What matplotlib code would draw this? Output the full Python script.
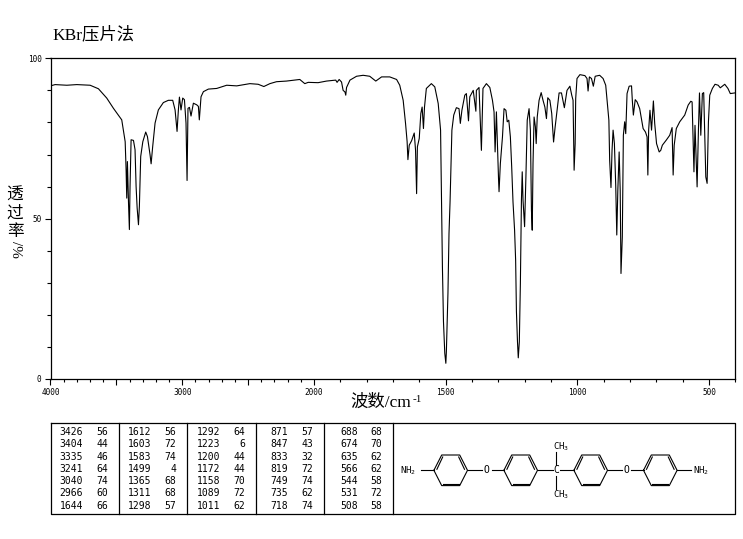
import numpy as np
import matplotlib
matplotlib.use('Agg')
import matplotlib.pyplot as plt
from matplotlib.ticker import FixedLocator, FixedFormatter

# spectrum trace
wavenumber = [
    4000, 3965, 3876, 3800, 3699, 3636, 3573, 3522, 3459, 3433, 3426, 3421, 3416, 3408, 3401, 3396, 3388,
    3370, 3358, 3350, 3342, 3332, 3325, 3315, 3299, 3277, 3264, 3244, 3236, 3224, 3206, 3181, 3143, 3105,
    3072, 3054, 3039, 3029, 3021, 3009, 2996, 2983, 2971, 2963, 2956, 2945, 2933, 2915, 2890, 2877, 2870,
    2857, 2839, 2801, 2738, 2662, 2586, 2486, 2423, 2380, 2334, 2284, 2208, 2107, 2069, 2043, 1984, 1952,
    1917, 1912, 1904, 1895, 1889, 1882, 1879, 1876, 1863, 1838, 1813, 1788, 1765, 1743, 1712, 1686, 1674,
    1661, 1652, 1646, 1643, 1638, 1629, 1619, 1614, 1610, 1607, 1600, 1594, 1589, 1584, 1580, 1573, 1554,
    1541, 1528, 1519, 1515, 1512, 1508, 1503, 1499, 1497, 1491, 1487, 1483, 1476, 1469, 1459, 1449, 1444,
    1438, 1427, 1421, 1413, 1408, 1395, 1385, 1383, 1373, 1364, 1358, 1345, 1332, 1322, 1316, 1312, 1307,
    1299, 1297, 1292, 1284, 1278, 1271, 1266, 1260, 1254, 1249, 1244, 1238, 1234, 1231, 1227, 1224, 1220,
    1216, 1212, 1209, 1206, 1200, 1195, 1190, 1183, 1178, 1174, 1171, 1168, 1164, 1159, 1156, 1152, 1145,
    1137, 1130, 1123, 1117, 1112, 1104, 1097, 1090, 1084, 1075, 1069, 1060, 1049, 1039, 1028, 1021, 1016,
    1012, 1008, 1006, 1001, 990, 971, 963, 959, 954, 946, 939, 932, 915, 902, 892, 887, 880, 877, 872, 868,
    864, 859, 854, 850, 846, 841, 837, 834, 829, 825, 820, 816, 811, 803, 794, 791, 787, 780, 773, 763, 750,
    741, 735, 732, 729, 724, 718, 711, 706, 699, 689, 683, 677, 662, 649, 640, 636, 632, 624, 611, 592, 579,
    569, 564, 557, 553, 545, 540, 536, 531, 525, 520, 512, 507, 502, 497, 487, 477, 465, 457, 440, 428, 419,
    402,
]
transmittance = [
    91.4, 91.8, 91.6, 91.8, 91.6, 90.5, 87.6, 84.4, 80.8, 74.0, 65.3, 56.4, 67.8, 55.4, 46.6, 60.0, 74.6,
    74.4, 71.5, 60.0, 53.3, 48.1, 54.0, 69.4, 74.0, 77.0, 75.6, 69.9, 67.1, 72.5, 79.8, 83.9, 86.2, 86.9,
    86.9, 83.9, 77.2, 83.9, 87.9, 83.9, 87.6, 87.1, 79.8, 61.9, 84.4, 84.7, 82.0, 86.0, 85.5, 85.0, 80.8,
    88.0, 89.6, 90.4, 90.6, 91.6, 91.4, 92.1, 91.9, 91.2, 92.1, 92.7, 92.9, 93.4, 92.1, 92.5, 92.4, 92.9,
    93.2, 92.5, 93.4, 92.6, 90.0, 89.5, 88.5, 90.9, 93.2, 94.4, 94.7, 94.4, 92.9, 94.2, 94.2, 93.4, 91.6,
    86.9, 79.7, 74.0, 68.4, 72.9, 74.3, 76.7, 71.3, 57.8, 72.4, 75.0, 82.8, 84.8, 78.1, 84.8, 90.6, 92.1,
    91.1, 85.9, 77.6, 54.2, 35.0, 17.9, 8.0, 4.9, 8.5, 26.7, 45.4, 55.2, 77.6, 82.3, 84.6, 84.3, 79.7,
    83.8, 88.5, 89.0, 80.5, 88.0, 90.0, 83.5, 90.0, 90.9, 71.3, 90.6, 92.1, 90.9, 86.9, 83.3, 70.8, 83.3,
    62.5, 58.4, 67.2, 75.5, 84.3, 83.8, 80.2, 80.7, 75.5, 66.2, 55.2, 46.4, 37.0, 21.0, 11.6, 6.6, 11.6,
    29.8, 55.8, 64.6, 55.8, 47.5, 63.0, 80.7, 84.3, 77.6, 52.7, 46.4, 67.2, 81.7, 78.6, 73.4, 81.7, 86.9,
    89.3, 86.9, 84.8, 81.2, 87.7, 86.9, 82.8, 73.9, 78.6, 84.8, 89.2, 89.2, 84.6, 90.0, 91.3, 88.5, 86.9,
    65.1, 73.4, 87.4, 93.7, 94.9, 94.6, 93.7, 89.8, 94.2, 93.7, 91.3, 94.4, 94.7, 93.7, 91.6, 86.9, 80.7, 68.2, 59.7, 71.3,
    77.6, 73.4, 60.4, 44.9, 58.9, 70.8, 58.9, 32.9, 44.3, 76.0, 80.2, 76.5, 89.0, 91.3, 91.4, 86.9, 82.3, 87.1, 86.4, 84.3, 78.1,
    77.0, 75.5, 63.6, 77.6, 83.8, 77.6, 86.7, 79.7, 73.4, 70.8, 71.3, 72.9, 74.5, 76.0, 78.4, 63.6, 72.9, 78.1, 80.2, 82.3, 85.4,
    86.6, 86.4, 64.6, 79.1, 59.9, 77.6, 89.2, 76.0, 89.0, 89.3, 63.0, 61.0, 80.2, 88.5, 90.6, 91.9, 91.6, 90.8, 91.9, 90.6, 89.0,
    89.2,
]

# peak table, one list per column
peak_wn = [
    [3426, 3404, 3335, 3241, 3040, 2966, 1644],
    [1612, 1603, 1583, 1499, 1365, 1311, 1298],
    [1292, 1223, 1200, 1172, 1158, 1089, 1011],
    [871, 847, 833, 819, 749, 735, 718],
    [688, 674, 635, 566, 544, 531, 508],
]
peak_t = [
    [56, 44, 46, 64, 74, 60, 66],
    [56, 72, 74, 4, 68, 68, 57],
    [64, 6, 44, 44, 70, 72, 62],
    [57, 43, 32, 72, 74, 62, 74],
    [68, 70, 62, 62, 58, 72, 58],
]

x_major = [4000, 3500, 3000, 2500, 2000, 1500, 1000, 500]
x_labels = ['4000', '', '3000', '', '2000', '1500', '1000', '500']
x_minor = list(range(3900, 300, -100))
y_major = [0, 50, 100]
y_minor = [10, 20, 30, 40, 60, 70, 80, 90]

W, H = 743, 539
CJK = ['Liberation Serif', 'Noto Sans CJK SC', 'DejaVu Sans']
MONO = 'DejaVu Sans Mono'
plt.rcParams['mathtext.default'] = 'regular'


def forward(w):
    # the chart's axis is compressed by half above 2000
    w = np.asarray(w, dtype=float)
    return np.where(w <= 2000, w, 2000 + (w - 2000) / 2)


def inverse(v):
    v = np.asarray(v, dtype=float)
    return np.where(v <= 2000, v, 2000 + (v - 2000) * 2)


fig = plt.figure(figsize=(W / 100, H / 100), dpi=100)
ax = fig.add_axes([50.5 / W, 1 - 379 / H, (735.3 - 50.5) / W, (379 - 58.3) / H])
ax.set_xscale('function', functions=(forward, inverse))
ax.plot(wavenumber, transmittance, color='black', lw=0.8)
ax.set_xlim(4000, 400)
ax.set_ylim(0, 100)

ax.xaxis.set_major_locator(FixedLocator(x_major))
ax.xaxis.set_major_formatter(FixedFormatter(x_labels))
ax.xaxis.set_minor_locator(FixedLocator(x_minor))
ax.yaxis.set_major_locator(FixedLocator(y_major))
ax.yaxis.set_minor_locator(FixedLocator(y_minor))
ax.tick_params(axis='both', which='major', length=4, width=0.8, labelsize=5.6, pad=2.5)
ax.tick_params(axis='x', which='minor', length=2, width=0.8)
ax.tick_params(axis='y', which='minor', length=3, width=0.8)
for lab in ax.get_xticklabels() + ax.get_yticklabels():
    lab.set_family(MONO)
for s in ax.spines.values():
    s.set_linewidth(0.9)

# overlay in pixel coordinates for text, table and structure
ov = fig.add_axes([0, 0, 1, 1], zorder=5)
ov.set_xlim(0, W)
ov.set_ylim(H, 0)
ov.axis('off')

ov.text(52, 35, 'KBr压片法', family=CJK, fontsize=12.5, va='center', ha='left')
for ch, y in zip('透过率', [196, 214, 232]):
    ov.text(15, y, ch, family=CJK, fontsize=12, ha='center', va='center')
ov.text(15, 249, '/%', family=CJK, fontsize=11, ha='center', va='center', rotation=-90)
ov.text(350, 403, '波数/cm', family=CJK, fontsize=12.5, ha='left', va='center')
ov.text(413, 399, '-1', family='Liberation Serif', fontsize=8, ha='left', va='center')

# table frame
top, bottom = 422.7, 514.3
left, right = 50.5, 735.3
ov.plot([left, right, right, left, left], [top, top, bottom, bottom, top], color='black', lw=0.9)
for xd in [119.3, 187.3, 256.3, 324.3, 393.3]:
    ov.plot([xd, xd], [top, bottom], color='black', lw=0.9)

row_y = [431.7, 444, 456.7, 468.7, 481, 493.3, 506]
col_wn_x = [83.3, 151.7, 220.3, 288, 357.7]
col_t_x = [108.3, 176, 245.3, 313.3, 382]
for c in range(len(peak_wn)):
    for r, y in enumerate(row_y):
        ov.text(col_wn_x[c], y, str(peak_wn[c][r]), family=MONO, fontsize=7, ha='right', va='center')
        ov.text(col_t_x[c], y, str(peak_t[c][r]), family=MONO, fontsize=7, ha='right', va='center')


def draw_ring(cx, cy=470.3):
    hw, hh, off = 16.8, 15.3, 9
    xs = [cx - hw, cx - off, cx + off, cx + hw, cx + off, cx - off, cx - hw]
    ys = [cy, cy - hh, cy - hh, cy, cy + hh, cy + hh, cy]
    ov.plot(xs, ys, color='black', lw=0.8)
    # inner lines of the double bonds
    d = 2.0
    ov.plot([cx - hw + 3, cx - off + 1], [cy - 1, cy - hh + d], color='black', lw=0.8)
    ov.plot([cx + hw - 3, cx + off - 1], [cy - 1, cy - hh + d], color='black', lw=0.8)
    ov.plot([cx - off + 1, cx + off - 1], [cy + hh - d, cy + hh - d], color='black', lw=0.8)


for cx in [450.7, 520.7, 590.7, 660.3]:
    draw_ring(cx)

cy = 470.3
for x0, x1 in [(421, 434), (467.7, 481.5), (491.5, 504), (537.5, 553), (560, 574),
               (607.5, 621.5), (631, 643.5), (677, 691)]:
    ov.plot([x0, x1], [cy, cy], color='black', lw=0.8)
ov.plot([555.7, 555.7], [451.5, 465], color='black', lw=0.8)
ov.plot([555.7, 555.7], [476, 488.5], color='black', lw=0.8)

ov.text(400, cy, 'NH$_2$', family=MONO, fontsize=6.5, ha='left', va='center')
ov.text(693, cy, 'NH$_2$', family=MONO, fontsize=6.5, ha='left', va='center')
ov.text(486.7, cy, 'O', family=MONO, fontsize=7, ha='center', va='center')
ov.text(626.3, cy, 'O', family=MONO, fontsize=7, ha='center', va='center')
ov.text(556, cy, 'C', family=MONO, fontsize=7, ha='center', va='center')
ov.text(553, 446.5, 'CH$_3$', family=MONO, fontsize=6.5, ha='left', va='center')
ov.text(553, 495, 'CH$_3$', family=MONO, fontsize=6.5, ha='left', va='center')

fig.savefig('out.png', dpi=100)
plt.close(fig)
